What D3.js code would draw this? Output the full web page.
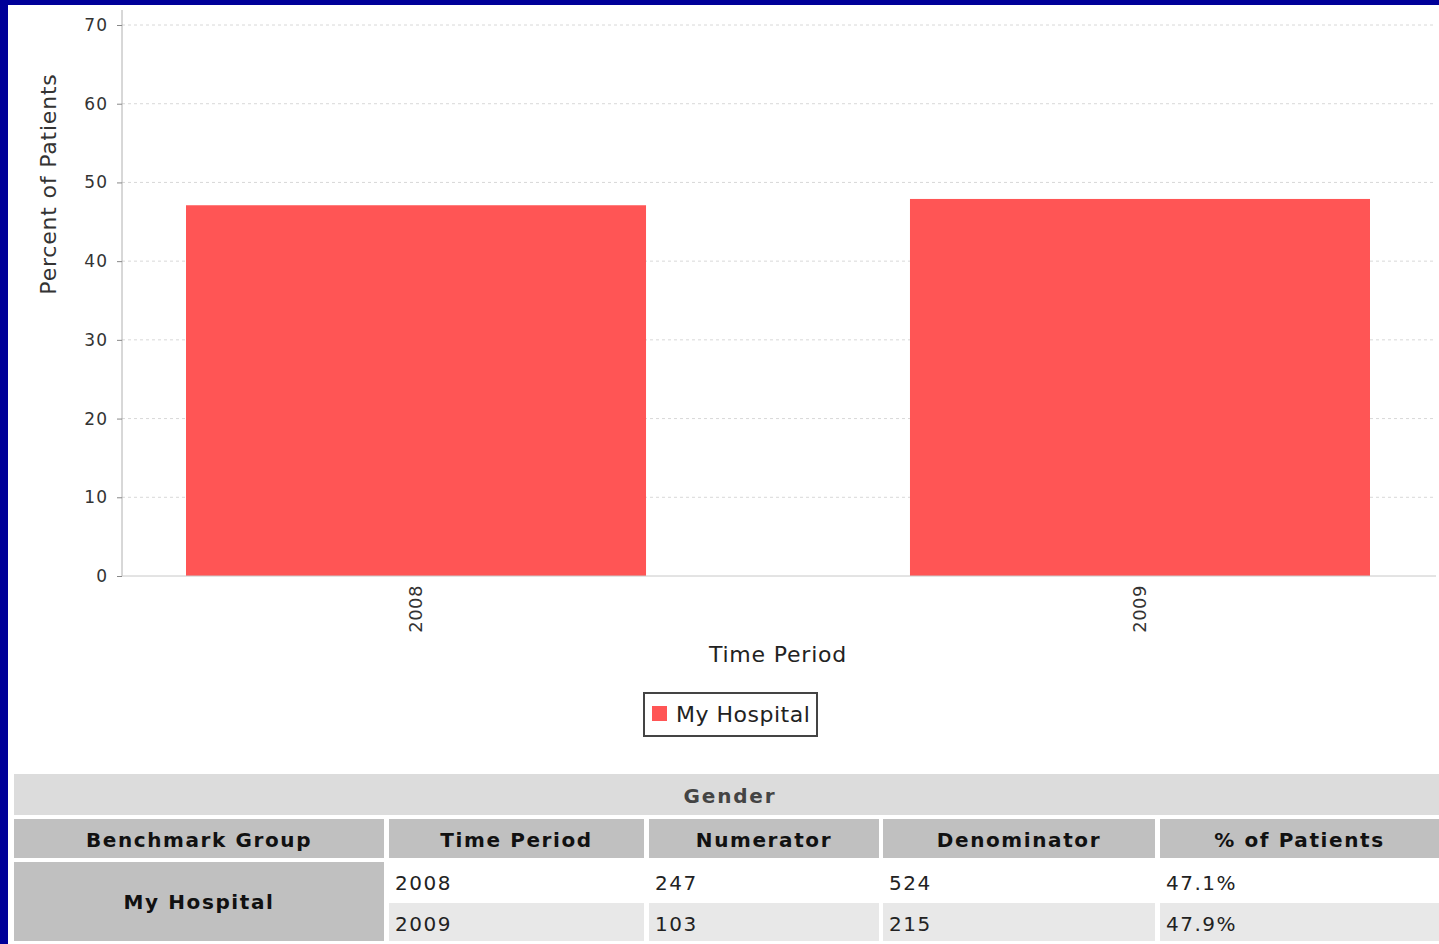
<!DOCTYPE html>
<html>
<head>
<meta charset="utf-8">
<script src="https://cdn.jsdelivr.net/npm/d3@7"></script>
<style>
  body { margin: 0; background: #000099; }
  svg { display: block; }
</style>
</head>
<body>
<script>
'use strict';

// chart data
const periods = ["2008", "2009"];
const percents = [47.1, 47.9];
const seriesName = "My Hospital";
const yTicks = [0, 10, 20, 30, 40, 50, 60, 70];

// table data
const tableTitle = "Gender";
const tableHeaders = ["Benchmark Group", "Time Period", "Numerator", "Denominator", "% of Patients"];
const numerators = [247, 103];
const denominators = [524, 215];
const pctLabels = ["47.1%", "47.9%"];

(function() {
  const svg = d3.select('body').append('svg')
    .attr('width', 1439)
    .attr('height', 944);

  // blue frame + white page
  svg.append('rect').attr('x', 0).attr('y', 0).attr('width', 1439).attr('height', 944).attr('fill', '#000099');
  svg.append('rect').attr('x', 8).attr('y', 5).attr('width', 1431).attr('height', 939).attr('fill', '#ffffff');

  const left = 122, right = 1434, top = 25, bottom = 576;
  const font = 'DejaVu Sans, sans-serif';

  let yScale = d3.scaleLinear().domain([0, 70]).range([bottom, top]);
  let xScale = d3.scaleBand().domain(periods).range([left, right])
    .paddingInner(0.3646).paddingOuter(0.0884);

  // gridlines
  svg.append('g').selectAll('line')
    .data(yTicks.filter(d => d > 0))
    .enter().append('line')
      .attr('x1', left).attr('x2', 1436)
      .attr('y1', d => yScale(d)).attr('y2', d => yScale(d))
      .attr('stroke', '#d8d8d8')
      .attr('stroke-dasharray', '3,3');

  // bars
  svg.append('g').selectAll('rect')
    .data(periods)
    .enter().append('rect')
      .attr('x', d => xScale(d))
      .attr('y', (d, i) => yScale(percents[i]))
      .attr('width', xScale.bandwidth())
      .attr('height', (d, i) => bottom - yScale(percents[i]))
      .attr('fill', '#ff5555');

  // y axis
  let yAxis = d3.axisLeft(yScale).tickValues(yTicks).tickSize(5).tickPadding(9);
  let gy = svg.append('g').attr('transform', `translate(${left}, 0)`).call(yAxis);
  gy.select('.domain').attr('stroke', '#b0b0b0').attr('d', `M0,${top - 15}V${bottom}`);
  gy.selectAll('.tick line').attr('stroke', '#888');
  gy.selectAll('.tick text')
    .style('font-family', font)
    .style('font-size', '17px')
    .style('letter-spacing', '1px')
    .attr('fill', '#333');

  // x axis
  let xAxis = d3.axisBottom(xScale).tickSize(0).tickPadding(0);
  let gx = svg.append('g').attr('transform', `translate(0, ${bottom})`).call(xAxis);
  gx.select('.domain').attr('stroke', '#c8c8c8').attr('d', `M${left},0H1436`);
  gx.selectAll('.tick text')
    .attr('transform', 'rotate(-90)')
    .attr('x', -9).attr('y', 0).attr('dy', '0.35em')
    .style('text-anchor', 'end')
    .style('font-family', font)
    .style('font-size', '18px')
    .style('letter-spacing', '0.5px')
    .attr('fill', '#333');

  // axis labels
  svg.append('text')
    .attr('transform', 'translate(56, 184)rotate(-90)')
    .attr('text-anchor', 'middle')
    .style('font-family', font)
    .style('font-size', '22px')
    .style('letter-spacing', '0.8px')
    .attr('fill', '#333')
    .text('Percent of Patients');

  svg.append('text')
    .attr('x', (left + right) / 2).attr('y', 662)
    .attr('text-anchor', 'middle')
    .style('font-family', font)
    .style('font-size', '22px')
    .style('letter-spacing', '0.8px')
    .attr('fill', '#222')
    .text('Time Period');

  // legend
  let lg = svg.append('g');
  lg.append('rect').attr('x', 644).attr('y', 693).attr('width', 173).attr('height', 43)
    .attr('fill', '#fff').attr('stroke', '#444').attr('stroke-width', 2);
  lg.append('rect').attr('x', 652).attr('y', 706).attr('width', 15).attr('height', 15).attr('fill', '#ff5555');
  lg.append('text').attr('x', 676).attr('y', 722)
    .style('font-family', font)
    .style('font-size', '22px')
    .style('letter-spacing', '0.5px')
    .attr('fill', '#222')
    .text(seriesName);

  // table
  const colX = [14, 389, 649, 883, 1160];
  const colW = [370, 255, 230, 272, 279];
  let tb = svg.append('g');

  tb.append('rect').attr('x', 14).attr('y', 774).attr('width', 1425).attr('height', 41).attr('fill', '#dcdcdc');
  tb.append('text').attr('x', 730).attr('y', 803)
    .attr('text-anchor', 'middle')
    .style('font-family', font)
    .style('font-size', '20px').style('font-weight', 'bold').style('letter-spacing', '1.8px')
    .attr('fill', '#444')
    .text(tableTitle);

  let headers = tb.selectAll('.hdr').data(tableHeaders).enter().append('g').attr('class', 'hdr');
  headers.append('rect')
    .attr('x', (d, i) => colX[i]).attr('y', 819)
    .attr('width', (d, i) => colW[i]).attr('height', 39)
    .attr('fill', '#c0c0c0');
  headers.append('text')
    .attr('x', (d, i) => colX[i] + colW[i] / 2).attr('y', 847)
    .attr('text-anchor', 'middle')
    .style('font-family', font)
    .style('font-size', '20px').style('font-weight', 'bold').style('letter-spacing', '1.6px')
    .attr('fill', '#111')
    .text(d => d);

  // benchmark group cell spanning rows
  tb.append('rect').attr('x', colX[0]).attr('y', 862).attr('width', colW[0]).attr('height', 79).attr('fill', '#c0c0c0');
  tb.append('text').attr('x', colX[0] + colW[0] / 2).attr('y', 909)
    .attr('text-anchor', 'middle')
    .style('font-family', font)
    .style('font-size', '20px').style('font-weight', 'bold').style('letter-spacing', '1.6px')
    .attr('fill', '#111')
    .text(seriesName);

  const rowY = [862, 903];
  const rowH = [40, 38];
  const rowFill = ['#ffffff', '#e8e8e8'];
  periods.forEach((p, r) => {
    let cells = [p, numerators[r], denominators[r], pctLabels[r]];
    tb.selectAll('.row' + r).data(cells).enter().append('rect')
      .attr('x', (d, i) => colX[i + 1]).attr('y', rowY[r])
      .attr('width', (d, i) => colW[i + 1]).attr('height', rowH[r])
      .attr('fill', rowFill[r]);
    tb.selectAll('.rowt' + r).data(cells).enter().append('text')
      .attr('x', (d, i) => colX[i + 1] + 6).attr('y', rowY[r] + 28)
      .style('font-family', font)
      .style('font-size', '20px')
      .style('letter-spacing', '1.5px')
      .attr('fill', '#222')
      .text(d => d);
  });
})();
</script>
</body>
</html>
